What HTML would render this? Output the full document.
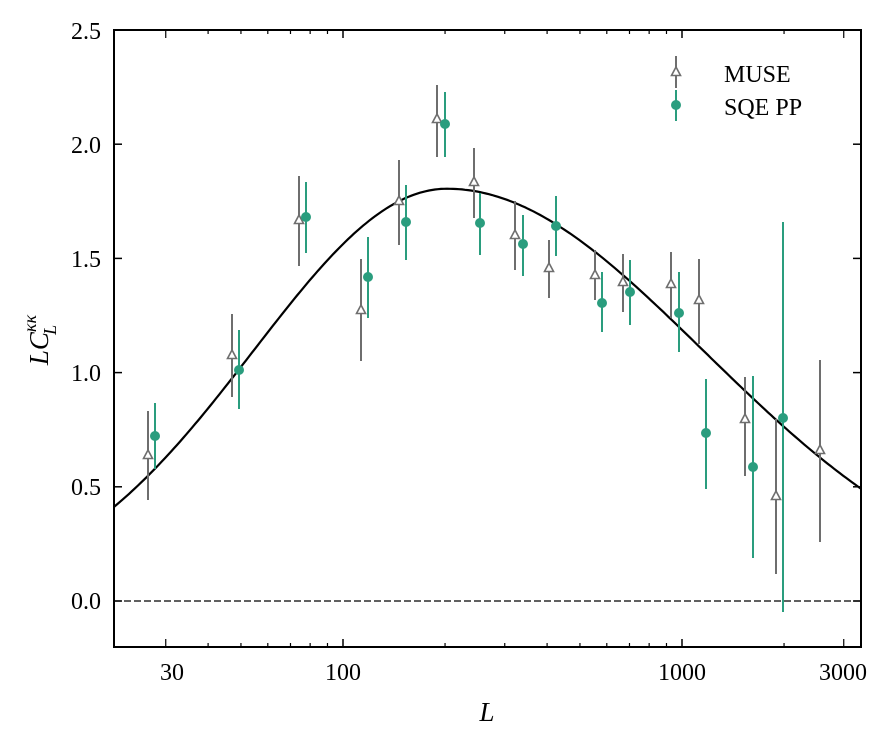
<!DOCTYPE html>
<html><head><meta charset="utf-8"><style>
body{margin:0;background:#fff;}
svg text{font-family:"Liberation Serif","DejaVu Serif",serif;}
</style></head><body>
<svg id="s" width="895" height="747" viewBox="0 0 895 747" xmlns="http://www.w3.org/2000/svg">
<rect width="895" height="747" fill="#fff"/>
<g id="g"></g>
<rect x="114" y="30" width="747" height="617" fill="none" stroke="#000" stroke-width="2"/>
<g font-size="24" text-anchor="end">
<text x="101" y="609">0.0</text>
<text x="101" y="495">0.5</text>
<text x="101" y="381">1.0</text>
<text x="101" y="267">1.5</text>
<text x="101" y="153">2.0</text>
<text x="101" y="39">2.5</text>
</g>
<g font-size="24" text-anchor="middle">
<text x="172" y="680">30</text>
<text x="343" y="680">100</text>
<text x="682" y="680">1000</text>
<text x="843" y="680">3000</text>
<text x="487" y="721" font-style="italic" font-size="27">L</text>
</g>
<text transform="translate(48,340) rotate(-90)" font-size="27" text-anchor="middle"><tspan font-style="italic">LC</tspan><tspan font-style="italic" font-size="18" dy="-12">κκ</tspan><tspan font-style="italic" font-size="18" dx="-20" dy="20">L</tspan></text>
<g font-size="24">
<text x="724" y="82">MUSE</text>
<text x="724" y="115">SQE PP</text>
</g>
</svg>
<script>
var g=document.getElementById('g'),h='';
for(var v=0;v<=2.5;v+=0.5){var y=601-v*228.4;h+='<line x1="114" x2="122" y1="'+y+'" y2="'+y+'" stroke="#000" stroke-width="1.5"/><line x1="853" x2="861" y1="'+y+'" y2="'+y+'" stroke="#000" stroke-width="1.5"/>';}
function X(L){return 343+339*Math.log10(L/100);}
for(var d=10;d<=1000;d*=10)for(var k=2;k<=9;k++){var L=d*k;var x=X(L);if(x<114||x>861)continue;var m=(L==30||L==3000);var len=m?8:4;
h+='<line x1="'+x+'" x2="'+x+'" y1="647" y2="'+(647-len)+'" stroke="#000" stroke-width="1.2"/><line x1="'+x+'" x2="'+x+'" y1="30" y2="'+(30+len)+'" stroke="#000" stroke-width="1.2"/>';}
[100,1000].forEach(function(L){var x=X(L);h+='<line x1="'+x+'" x2="'+x+'" y1="647" y2="639" stroke="#000" stroke-width="1.5"/><line x1="'+x+'" x2="'+x+'" y1="30" y2="38" stroke="#000" stroke-width="1.5"/>';});
h+='<line x1="114" x2="861" y1="601" y2="601" stroke="#000" stroke-width="1.3" stroke-dasharray="7,3"/>';
var p='';for(var x=114;x<=861;x+=3){var dd=x-447,s=dd<0?193.7:256.7;var v=1.805*Math.exp(-dd*dd/(2*s*s));p+=(x==114?'M':'L')+x+','+(601-v*228.4).toFixed(1);}
h+='<path d="'+p+'" fill="none" stroke="#000" stroke-width="2.2"/>';
var mu=[[148,455,411,500],[232,355,314,397],[299,220,176,266],[361,310,259,361],[399,201,160,245],[437,119,85,157],[474,182,148,218],[515,235,201,270],[549,268,240,298],[595,275,250,300],[623,282,254,312],[671,284,252,318],[699,300,259,344],[745,419,377,476],[776,496,419,574],[820,450,360,542],[676,72,56,88]];
mu.forEach(function(a){h+='<line x1="'+a[0]+'" x2="'+a[0]+'" y1="'+a[2]+'" y2="'+a[3]+'" stroke="#6e6e6e" stroke-width="2"/><polygon points="'+a[0]+','+(a[1]-5)+' '+(a[0]-4.5)+','+(a[1]+3.5)+' '+(a[0]+4.5)+','+(a[1]+3.5)+'" fill="#fff" stroke="#6e6e6e" stroke-width="1.6"/>';});
var sq=[[155,436,403,469],[239,370,330,409],[306,217,182,253],[368,277,237,318],[406,222,185,260],[445,124,92,157],[480,223,193,255],[523,244,215,276],[556,226,196,256],[602,303,272,332],[630,292,260,325],[679,313,272,352],[706,433,379,489],[753,467,376,558],[783,418,222,612],[676,105,90,121]];
sq.forEach(function(a){h+='<line x1="'+a[0]+'" x2="'+a[0]+'" y1="'+a[2]+'" y2="'+a[3]+'" stroke="#2a9d7e" stroke-width="2"/><circle cx="'+a[0]+'" cy="'+a[1]+'" r="5" fill="#2a9d7e"/>';});
g.innerHTML=h;
</script>
</body></html>
